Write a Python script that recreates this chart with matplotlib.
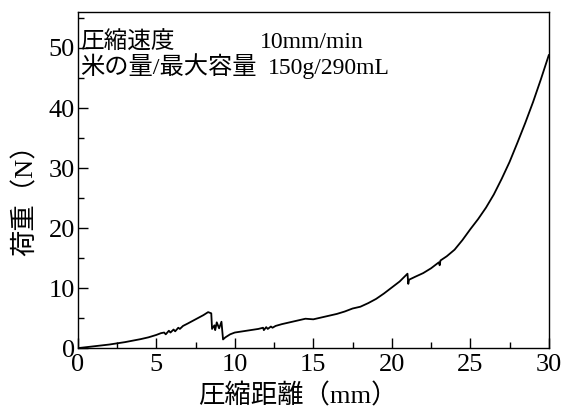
import matplotlib.pyplot as plt
from matplotlib.ticker import MultipleLocator

# compression distance (mm) and load (N)
distance = [0, 0.5, 1, 1.5, 2, 2.5, 3, 3.5, 4, 4.5, 5, 5.3, 5.5, 5.6, 5.8, 5.9,
            6.1, 6.2, 6.4, 6.5, 6.7, 7, 7.5, 8, 8.3, 8.5, 8.55, 8.7, 8.75, 8.85,
            9.0, 9.15, 9.25, 9.4, 9.7, 10, 10.5, 11, 11.5, 11.8, 11.85, 12, 12.1,
            12.3, 12.4, 12.6, 13, 13.5, 14, 14.5, 15, 15.5, 16, 16.5, 17, 17.5,
            18, 18.5, 19, 19.5, 20, 20.5, 21.0, 21.05, 21.1, 21.5, 22, 22.5, 23,
            23.05, 23.1, 23.5, 24, 24.5, 25, 25.5, 26, 26.5, 27, 27.5, 28, 28.5,
            29, 29.5, 30]
load = [0, 0.15, 0.3, 0.45, 0.6, 0.8, 1.0, 1.25, 1.5, 1.8, 2.2, 2.5, 2.6, 2.3,
        2.9, 2.6, 3.1, 2.8, 3.4, 3.2, 3.7, 4.1, 4.8, 5.5, 6.0, 5.8, 3.2, 3.8, 3.0,
        4.3, 3.3, 4.4, 1.45, 1.8, 2.3, 2.6, 2.8, 3.0, 3.2, 3.4, 3.0, 3.5, 3.2,
        3.6, 3.4, 3.7, 4.0, 4.3, 4.6, 4.9, 4.8, 5.1, 5.4, 5.7, 6.1, 6.6, 6.9,
        7.5, 8.2, 9.1, 10.1, 11.1, 12.4, 10.7, 11.4, 11.9, 12.5, 13.3, 14.3,
        13.8, 14.6, 15.3, 16.4, 18.0, 19.8, 21.5, 23.4, 25.6, 28.2, 31.0, 34.2,
        37.5, 41.0, 44.8, 48.8]

fam = ['Liberation Serif', 'Noto Sans CJK JP', 'DejaVu Sans']
plt.rcParams['font.family'] = fam

fig = plt.figure(figsize=(5.64, 4.12), dpi=100)
ax = fig.add_axes([0.138, 0.155, 0.835, 0.816])
ax.plot(distance, load, color='black', lw=1.3)

ax.set_xlim(0, 30)
ax.set_ylim(0, 56)
ax.xaxis.set_major_locator(MultipleLocator(5))
ax.xaxis.set_minor_locator(MultipleLocator(2.5))
ax.yaxis.set_major_locator(MultipleLocator(10))
ax.yaxis.set_minor_locator(MultipleLocator(5))
ax.tick_params(which='both', direction='in', labelsize=19, width=1)
ax.tick_params(which='major', length=7)
ax.tick_params(axis='x', which='major', pad=4)
ax.tick_params(axis='y', which='major', pad=2)
ax.tick_params(which='minor', length=4)
for s in ax.spines.values():
    s.set_linewidth(1)

ax.set_xlabel('圧縮距離（mm）', fontsize=19)
ax.xaxis.set_label_coords(0.468, -0.105)
ax.set_ylabel('荷重（N）', fontsize=19)
ax.yaxis.set_label_coords(-0.085, 0.46)

ax.text(0.004, 0.908, '圧縮速度', transform=ax.transAxes, fontsize=17, va='center')
ax.text(0.386, 0.908, '10mm/min', transform=ax.transAxes, fontsize=17, va='center')
ax.text(0.004, 0.833, '米の量/最大容量', transform=ax.transAxes, fontsize=17.5, va='center')
ax.text(0.403, 0.833, '150g/290mL', transform=ax.transAxes, fontsize=17, va='center')

fig.savefig('out.png', dpi=100)
